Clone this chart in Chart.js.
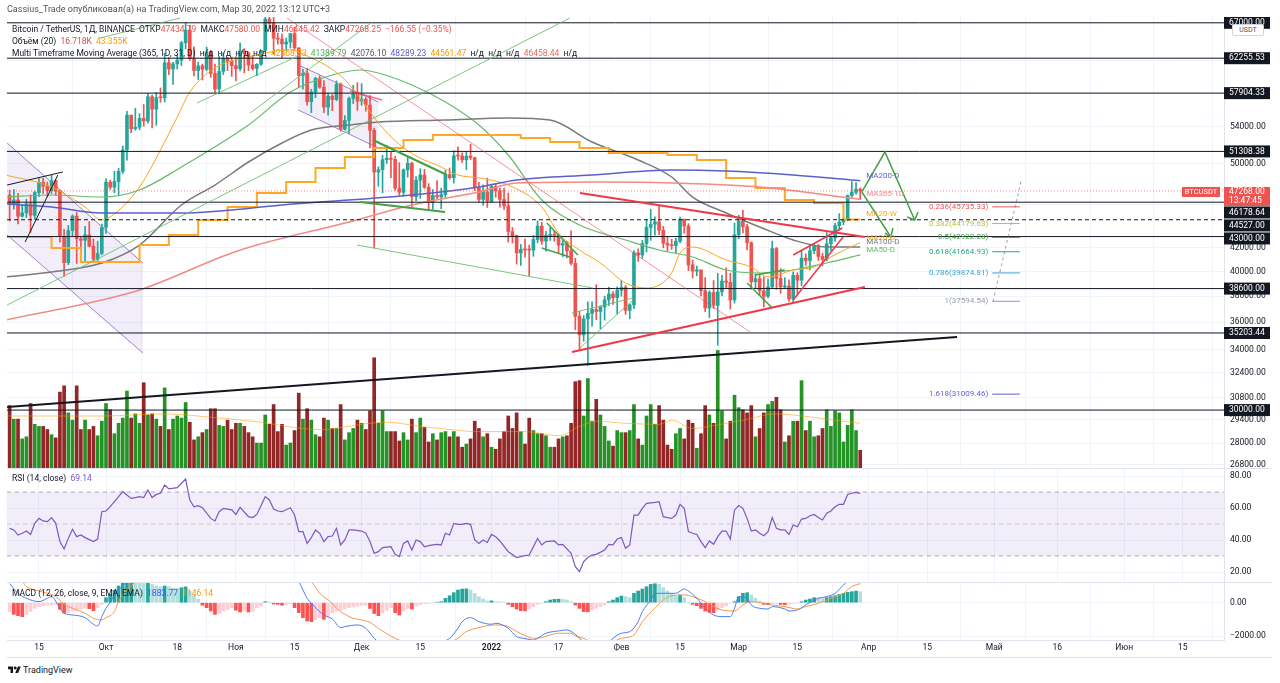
<!DOCTYPE html>
<html lang="ru">
<head>
<meta charset="UTF-8">
<title>Bitcoin / TetherUS, 1Д, BINANCE</title>
<script src="https://cdn.jsdelivr.net/npm/chart.js@4.4.1/dist/chart.umd.min.js"></script>
<style>
    html, body { margin: 0; padding: 0; background: #fff; }
    body { font-family: Roboto, 'Noto Sans', sans-serif; color: #131722; }
    .page { position: relative; width: 1280px; height: 683px; overflow: hidden; }
    .pane { position: absolute; left: 7px; width: 1273px; }
    .sep { position: absolute; left: 7px; width: 1265px; height: 1px; background: #e0e3eb; }
    .hdr { position: absolute; left: 0; top: 0; width: 1280px; height: 17px; background: #fff; }
    .hdr span { position: absolute; left: 7px; top: 4px; font-size: 9px; line-height: 11px; color: #50535e; }
    .txt { position: absolute; left: 12px; font-size: 8.5px; line-height: 10px; white-space: pre; color: #131722; }
    .red { color: #ef5350; }
    .vol { color: #d0504c; }
    .org { color: #ff9800; }
    .grn { color: #4caf50; }
    .gry { color: #555; }
    .pur { color: #5c5fc9; }
    .sal { color: #ef6a62; }
    .rsi { color: #7e57c2; }
    .blu { color: #2962ff; }
    .usdt { position: absolute; left: 1232px; top: 24px; width: 30px; height: 10px; background: #fff;
            border: 1px solid #d1d4dc; border-radius: 2px; font-size: 7px; line-height: 10px;
            text-align: center; color: #50535e; }
    .logo { position: absolute; left: 8px; top: 665px; font-size: 9px; line-height: 11px; color: #131722; }
    .logo svg { vertical-align: -1px; margin-right: 2px; }
</style>
</head>
<body>
<div class="page">
    <div class="pane" style="top:0;height:468px"><canvas id="priceChart"></canvas></div>
    <div class="pane" style="top:468px;height:114px"><canvas id="rsiChart"></canvas></div>
    <div class="pane" style="top:582px;height:76px"><canvas id="macdChart"></canvas></div>
    <div class="sep" style="top:468px"></div>
    <div class="sep" style="top:582px"></div>
    <div class="sep" style="top:657px"></div>

    <div class="hdr"><span>Cassius_Trade опубликовал(а) на TradingView.com, Мар 30, 2022 13:12 UTC+3</span></div>
    <div class="txt" style="top:24px">Bitcoin / TetherUS, 1Д, BINANCE  ОТКР<span class="red">47434.79</span>  МАКС<span class="red">47580.00</span>  МИН<span class="red">46445.42</span>  ЗАКР<span class="red">47268.25</span>  <span class="red">−166.55 (−0.35%)</span></div>
    <div class="txt" style="top:36px">Объём (20)  <span class="vol">16.718K</span>  <span class="org">43.355K</span></div>
    <div class="txt" style="top:48px">Multi Timeframe Moving Average (365, 1D, 31, D)  н/д  н/д  н/д  н/д  <span class="org">42468.83</span>  <span class="grn">41389.79</span>  <span class="gry">42076.10</span>  <span class="pur">48289.23</span>  <span class="org">44561.47</span>  н/д  н/д  н/д  <span class="sal">46458.44</span>  н/д</div>
    <div class="txt" style="top:473px">RSI (14, close)  <span class="rsi">69.14</span></div>
    <div class="txt" style="top:588px">MACD (12, 26, close, 9, EMA, EMA)  <span class="blu">1883.77</span>  <span class="org">1146.14</span></div>
    <div class="usdt">USDT</div>
    <div class="logo"><svg width="13" height="9" viewBox="0 0 36 24"><path d="M14 22H7V11H0V4h14v18z" fill="#131722"/><circle cx="20" cy="8" r="4" fill="#131722"/><path d="M28 22h-8l7.5-18h8z" fill="#131722"/></svg>TradingView</div>
</div>

<script>
    // ---------- data (x = days from 1 Jan 2022, first candle 8 Sep 2021) ----------
    const firstDay = -115;

    const opens = [
        46863,46048,46395,44850,45173,46026,44940,47103,48121,47737,47299,48292,47241,43016,40734,43546,44865,42810,42670,43160,42147,41025,41524,
        43820,48141,47634,48200,49224,51471,55315,53785,53955,54949,54659,57471,56005,57367,57347,61672,60875,61528,62005,64280,66001,62193,60688,61286,60852,63078,60328,58413,60575,62253,61859,
        61299,60911,63219,62897,61395,60940,61470,63273,67525,66947,64883,64774,64122,64380,65520,63606,60058,60344,56891,58057,59707,58617,56247,57541,57138,58960,53723,54716,57274,57777,
        56951,57184,56485,53601,49152,49397,50441,50588,50471,47535,47140,49389,50053,46702,48336,48864,47632,46133,46834,46681,46915,48896,48588,50838,50820,50428,50809,50640,47588,46444,47178,
        46216,47722,47286,46446,45832,43451,43082,41566,41864,41822,41815,42735,43950,42591,43099,43177,43113,42250,42375,41744,40680,36445,35071,36245,36660,36958,36809,37161,37712,38166,37882,
        38466,38694,36896,37311,41571,41382,42380,43840,44118,44347,43565,42407,42244,42197,42586,44578,43937,40552,40030,40118,38431,37069,38286,37280,38333,39214,39105,37699,
        43160,44421,43892,42454,39148,39397,38420,37988,38730,41942,39422,38730,38807,37778,39671,39280,41114,40917,41757,42201,41262,41003,42364,42882,43991,44313,44511,46827,47128,47434
    ];
    const highs = [
        47340,47399,47033,45969,46460,46880,47250,48500,48557,48150,48843,48372,47347,43639,44000,44978,45200,42966,43920,44350,42787,42590,44132,
        48495,48336,49228,49536,51886,55750,55332,56100,55489,56561,57839,57680,58000,58531,62933,62350,61718,62695,64486,67000,66639,63732,61747,61500,63710,63293,61496,62499,62980,62359,62405,
        62437,64270,63500,63086,62595,61560,63286,67789,68524,69000,65600,65450,64915,65550,66401,63617,60840,60976,58370,59845,60029,59444,57875,57735,59398,59150,55281,57445,58865,59176,
        59053,57375,57600,53859,49699,50891,51936,51200,50797,50125,49485,50777,50189,48700,49500,49436,47995,47392,48300,47537,49328,49576,51375,51810,51156,51280,52088,50704,48119,47879,48548,
        47954,47990,47570,47557,47070,43816,43145,42300,42786,42248,43100,44423,44279,43459,43800,43475,43176,42691,42576,43505,41100,36835,36499,37550,37545,38920,37234,38000,38720,38359,38744,
        39265,38855,37387,41772,41913,42656,44500,45492,44799,45821,43920,43000,42760,42876,44775,44578,44164,40959,40444,40129,39494,38429,39249,39843,39683,40295,39855,44225,
        44949,45400,44101,42527,39794,39694,39547,39362,42594,42039,40236,39486,39310,39947,39887,41718,41478,42325,42400,42296,41544,43361,43025,44220,45094,44792,46890,48190,48096,47580
    ];
    const lows = [
        44412,45513,44132,44770,44742,43370,44555,46700,47021,46699,47033,46829,42500,39600,40565,43069,40675,41646,40750,42098,40888,40753,41410,
        43283,47430,47088,46891,49022,50382,53357,53617,53661,54080,54415,53879,54167,56818,56850,60150,58963,60880,61322,63481,62000,60000,59562,59510,60650,59817,58000,57820,60174,60673,59945,
        59405,60624,60382,60677,60721,60050,61322,63273,66222,62822,64100,62278,63303,63576,63400,58574,58373,56474,55600,57353,58486,55610,55317,55837,57000,53500,53610,53256,56666,55875,
        56458,55777,51680,42000,47727,47100,50039,48600,47320,46852,46751,48638,45672,46290,46547,47511,45456,45500,46406,45558,46630,48421,48049,50384,50142,49412,50450,47313,46201,45900,45678,
        46208,46654,45696,45500,42500,42430,40610,40501,41200,39650,41268,42447,42311,41725,42654,42581,41540,41250,41138,40553,35440,34008,34601,32917,35701,36193,35507,36155,37268,37351,36632,
        38000,36586,36250,37026,40844,41116,41645,42666,43117,43176,42000,41748,41870,41570,42428,43307,40073,39450,39639,38000,36800,36350,37036,34322,38014,38600,37000,37450,
        42809,43334,41832,38550,38656,38088,37155,37867,38656,38539,38223,38660,37578,37555,38098,38828,40500,40135,41499,40911,40467,40875,41751,42561,43579,44072,44421,46663,46950,46445
    ];
    const closes = [
        46048,46395,44850,45173,46026,44940,47111,48121,47737,47299,48292,47241,43015,40734,43543,44865,42810,42670,43160,42147,41026,41524,43824,
        48141,47634,48200,49224,51471,55315,53785,53951,54949,54659,57471,56005,57367,57347,61672,60875,61528,62009,64280,66001,62193,60688,61286,60852,63078,60328,58413,60575,62253,61859,61299,
        60911,63219,62897,61395,60937,61470,63273,67525,66947,64882,64774,64122,64380,65519,63606,60058,60344,56891,58052,59707,58622,56247,57541,57138,58960,53726,54721,57274,57776,56950,
        57184,56480,53602,49152,49396,50441,50588,50471,47545,47140,49389,50053,46702,48343,48864,47632,46131,46834,46681,46915,48896,48588,50838,50821,50429,50809,50640,47588,46444,47178,46306,
        47722,47286,46446,45832,43451,43082,41566,41864,41822,41815,42735,43950,42591,43099,43177,43113,42250,42375,41744,40680,36445,35071,36244,36660,36958,36809,37161,37712,38166,37882,38467,
        38694,36896,37311,41574,41382,42380,43840,44118,44338,43565,42407,42244,42197,42586,44575,43961,40538,40030,40122,38431,37075,38286,37296,38332,39214,39105,37699,43160,
        44421,43893,42454,39148,39397,38420,37989,38730,41941,39422,38730,38807,37777,39671,39280,41114,40917,41757,42201,41262,41002,42364,42882,43991,44313,44511,46827,47128,47434,47268
    ];
    // daily volume, thousands of BTC
    const volumes = [
        60,47,47,28,30,62,42,40,40,37,32,29,73,79,53,46,79,37,46,37,40,31,45,
        62,56,33,43,48,74,48,52,43,82,51,52,47,40,77,37,47,50,48,63,44,27,30,34,37,57,57,41,40,46,37,
        43,43,40,34,30,24,24,51,42,61,35,42,22,24,36,72,47,57,46,32,30,48,46,38,38,61,27,34,38,46,
        43,37,55,106,43,55,35,35,35,26,34,27,47,34,48,39,25,33,27,34,35,30,35,30,20,23,28,45,38,30,33,
        20,18,28,35,50,38,53,35,23,48,36,33,33,31,20,20,28,30,31,43,83,84,50,86,45,66,51,40,26,21,36,
        34,34,36,61,28,22,50,61,42,60,46,22,18,33,38,28,46,43,19,33,60,51,43,113,55,28,45,70,
        58,56,53,60,30,38,53,61,64,68,56,25,31,45,45,84,36,45,30,31,38,56,40,55,53,25,41,56,36,17
    ];
    const volMa20 = [[-116,50],[-93,50],[-78,52],[-65,48],[-57,45],[-41,37],[-29,43],[-25,44],[-17,40],[-10,37],[-4,35],[8,35],
        [16,31],[21,40],[25,45],[32,43],[40,42],[43,46],[48,38],[52,40],[60,46],[68,52],[72,51],[80,47],[88,43]];

    // moving averages: [day, price]
    const ma20d = [[-116,48858],[-105,47656],[-97,45720],[-93,44504],[-91,44781],[-84,47656],[-79,51459],[-75,55104],[-72,58039],
        [-66,61005],[-58,62416],[-48,63323],[-43,62285],[-38.5,61005],[-34.5,59256],[-30.7,56848],[-26.6,54197],[-21.8,51996],
        [-17.1,50612],[-13,49883],[-8,48858],[-3,48557],[4,47853],[12,45720],[16,43317],[21,41817],[26,40706],[32,39050],[37,38647],
        [43,39870],[45,41559],[48,42076],[56,40961],[62,40368],[66,39540],[72,40117],[77,40368],[81,41218],[88,42469]];
    const ma50d = [[-116,46677],[-105,46872],[-93,46677],[-84,47363],[-74,49676],[-58,54197],[-48,58039],[-38,60119],[-31,60751],
        [-27,60373],[-19,58889],[-11,56848],[-3,54197],[4,50928],[12,46390],[21,44047],[32,42696],[40,41817],[48,41218],[56,40117],
        [64,39870],[72,40117],[80,40706],[88,41390]];
    const ma100d = [[-116,39540],[-105,39951],[-93,40706],[-84,42252],[-74,45911],[-66,47853],[-58,50195],[-50,52214],[-43,53638],
        [-34,54197],[-27,54535],[-11,54763],[4,54992],[14,54763],[24,52319],[35,50402],[43,48656],[48,46677],[56,45154],[64,43862],
        [72,42696],[80,42076],[88,42076]];
    const ma200d = [[-116,46005],[-105,45720],[-93,45154],[-84,45154],[-74,45154],[-62,45438],[-50,45911],[-34,46390],[-19,46872],
        [-3,47656],[6,48354],[24,48858],[43,49370],[56,49266],[72,48858],[88,48289]];
    const ma365d = [[-116,36165],[-93,37697],[-84,38487],[-62,41559],[-56,42252],[-34,44319],[-19,45911],[-3,47167],[6,48056],
        [26,48155],[43,48056],[64,47661],[88,46458]];
    // weekly MA20, held for each week
    const ma20w = [[-119,42961],[-105,41992],[-98,40789],[-84,42252],[-77,43139],[-70,44504],[-63,45720],[-56,47066],[-49,48154],
        [-42,49574],[-35,50718],[-28,51673],[-21,52538],[-14,53086],[7,52755],[14,52319],[21,51673],[28,51139],[35,51139],[42,50928],
        [49,50402],[56,48557],[63,47559],[70,46390],[77,46102],[84,44561],[88,44561]];

    const rsiPoints = [
        [-115,47.3],[-114,46.3],[-113,43.1],[-112,44.2],[-111,45.6],[-110,43.5],[-109,50.4],[-108,53.5],[-107,51.9],[-106,51.5],
        [-105,54],[-104,50.4],[-103,39],[-102,34.4],[-101,41],[-100,46.7],[-99,42.1],[-98,43.1],[-97,41.5],[-95,39],
        [-94,40.6],[-93,57.7],[-92,58.1],[-91,60.8],[-90,64],[-88,70.2],[-86,66],[-85,66.5],[-84,67.1],[-83,66.5],
        [-82,71.3],[-81,66.5],[-80,68.5],[-79,69.2],[-78,74.4],[-77,71.9],[-75,72.7],[-73,78.1],[-72,65],[-71,60.8],
        [-70,61.5],[-69,60.2],[-67,53.5],[-66,51.9],[-65,57.7],[-64,59.8],[-62,58.8],[-61,56],[-60,60.4],[-58,54.6],
        [-57,54],[-56,56],[-54,67.1],[-53,65],[-52,59.4],[-51,58.1],[-50,57.7],[-48,60.2],[-47,55.6],[-46,45.2],
        [-45,45.2],[-44,37.9],[-43,41.5],[-42,46.3],[-41,44.2],[-40,39],[-39,42.1],[-38,42.5],[-37,47.3],[-36,36.9],
        [-35,40],[-34,46.3],[-33,46.3],[-31,45.6],[-30,44.2],[-29,39],[-28,31.7],[-27,32.7],[-26,35.2],[-24,35.8],
        [-23,31],[-22,29.6],[-21,37.9],[-20,39.4],[-19,33.8],[-18,40],[-17,39],[-16,35.8],[-15,36.5],[-14,36.9],
        [-13,37.3],[-12,36.9],[-11,44.2],[-10,43.1],[-9,50.4],[-8,49.8],[-7,49.8],[-6,50.4],[-5,49.8],[-4,40],
        [-3,37.9],[-2,40],[-1,38.5],[0,43.5],[1,42.1],[2,39.4],[4,32.7],[5,31],[6,29],[8,30.2],
        [9,30.6],[11,41],[12,36.9],[13,39],[15,39.4],[16,36.9],[17,37.3],[19,31.7],[20,23.3],[21,20.2],
        [22,26.5],[23,29],[24,30.6],[25,31],[27,33.8],[28,37.3],[29,36.9],[30,40.6],[31,41.5],[32,34.8],
        [33,36.9],[34,55.6],[35,55.6],[36,59.8],[37,62.9],[39,63.5],[40,64],[41,54.6],[42,54],[43,53.5],
        [44,55.6],[45,62.3],[46,59.8],[47,45.2],[48,44.2],[49,43.5],[50,39],[51,35.2],[52,39.4],[53,37.3],
        [54,42.1],[55,45.6],[56,45.6],[57,40.6],[58,58.8],[59,61.5],[60,59.8],[61,53.5],[62,45.6],[63,46.3],
        [64,44.2],[65,42.7],[66,45.2],[67,54],[68,47.3],[69,46.3],[70,46.3],[71,43.5],[72,49.4],[73,48.3],
        [74,53.1],[75,53.5],[76,55.2],[77,56],[78,54],[79,52.5],[80,56.7],[81,58.1],[82,60.8],[83,62.3],
        [84,62.3],[85,68.5],[86,69.2],[87,69.8],[88,69.14]
    ];

    const macdPoints = [[-115,1150],[-113,564],[-111,264],[-108,64],[-106,264],[-105,364],[-103,-336],[-102,-636],[-100,-736],
        [-97,-896],[-95,-1296],[-94,-1396],[-93,-836],[-92,-336],[-91,24],[-90,464],[-87,1264],[-84,2100],[-80,2900],[-76,3300],
        [-72,3600],[-68,3000],[-64,2600],[-60,2100],[-56,1800],[-53,2000],[-50,1800],[-47,1500],[-46,1264],[-44,264],[-43,-36],
        [-42,-296],[-40,-736],[-38,-976],[-36,-1496],[-35,-1436],[-32,-1336],[-30,-1536],[-28,-2136],[-25,-2700],[-20,-2900],
        [-15,-2600],[-10,-2136],[-8,-1536],[-7,-1136],[-5,-896],[-3,-1136],[0,-1296],[1,-1236],[4,-1536],[6,-2036],[8,-2150],
        [10,-2250],[11,-2136],[13,-1836],[16,-1696],[18,-1636],[20,-1900],[21,-2136],[24,-2700],[27,-2600],[29,-2136],[31,-1836],
        [33,-1736],[35,-1136],[36,-536],[38,164],[39,564],[42,564],[44,564],[46,824],[47,700],[49,264],[51,-336],[53,-736],
        [55,-836],[57,-836],[58,-336],[59,364],[61,264],[62,-136],[64,-336],[66,-376],[67,-236],[70,-376],[71,-496],[73,-436],
        [75,-136],[78,264],[80,364],[82,564],[84,1064],[85,1264],[88,1884]];
    const signalPoints = [[-115,1500],[-112,1264],[-111,964],[-108,704],[-106,564],[-104,364],[-102,-96],[-100,-336],[-97,-636],
        [-95,-936],[-93,-1036],[-92,-896],[-90,-536],[-89,64],[-87,764],[-85,1224],[-80,2100],[-76,2700],[-72,3100],[-68,3200],
        [-64,3000],[-60,2600],[-56,2300],[-52,2100],[-48,1900],[-45,1600],[-43,1264],[-41,564],[-38,-36],[-37,-336],[-35,-696],
        [-33,-936],[-31,-1036],[-29,-1176],[-27,-1536],[-23,-2136],[-19,-2500],[-14,-2600],[-10,-2400],[-8,-2136],[-6,-1736],
        [-3,-1496],[-1,-1376],[1,-1336],[4,-1436],[6,-1736],[8,-1976],[10,-2136],[12,-2100],[14,-1936],[16,-1836],[19,-1836],
        [20,-2000],[22,-2136],[25,-2500],[28,-2450],[31,-2136],[34,-1936],[36,-1136],[39,-336],[41,164],[43,424],[46,464],
        [48,364],[51,64],[53,-236],[55,-436],[58,-496],[60,-136],[62,64],[65,-36],[67,-136],[70,-236],[73,-376],[75,-236],
        [78,-36],[81,264],[84,564],[86,964],[88,1146]];
    // histogram, one value per candle
    const histValues = [
        -540,-700,-780,-840,-700,-540,-340,-240,-180,-140,
        -140,-100,-400,-620,-600,-500,-440,-400,-330,-360,
        -480,-300,-100,300,520,760,1000,1200,1300,1350,
        1250,1200,1150,1200,1100,1000,950,1000,950,880,
        850,900,950,700,450,200,-150,-300,-500,-700,
        -650,-500,-400,-300,-450,-560,-500,-560,-520,-300,
        -200,60,20,-80,-100,-150,-100,-60,-300,-600,
        -900,-1100,-1140,-1000,-900,-1000,-800,-600,-500,-450,
        -380,-300,-250,-200,-160,-150,-350,-650,-780,-600,
        -450,-300,-600,-740,-500,-350,-380,-200,-120,-60,
        -40,-20,30,60,260,420,600,760,820,830,
        760,560,360,220,100,110,60,50,20,-100,
        -240,-380,-480,-490,-380,-240,-100,-40,60,160,
        200,210,200,160,60,-140,-340,-540,-550,-440,
        -340,-240,-140,60,160,300,400,360,300,560,
        700,820,960,1100,1140,1100,900,700,560,380,
        460,300,20,-100,-180,-340,-500,-580,-600,-440,
        -300,-180,-40,60,360,560,600,460,260,100,
        -100,-120,-60,-40,-100,-120,-100,-40,-20,60,
        160,220,300,300,260,300,360,420,500,560,
        620,660,700,660
    ];

    // axes
    const timeTickDays = [-108,-92,-75,-61,-47,-31,-17,0,16,31,45,59,73,90,104,120,135,151,165];
    const timeTickLabels = ['15','Окт','18','Ноя','15','Дек','15','2022','17','Фев','15','Мар','15','Апр','15','Май','16','Июн','15'];
    const priceTicks = [62000,58000,54000,50000,46000,42000,40000,38000,36000,34000,32400,30800,29400,28000,26800];
    const rsiTicks = [80,60,40,20];
    const macdTicks = [0,-2000];

    // horizontal levels and fib retracement
    const levels = [67000,62255.53,57904.33,51308.38,46178.64,44527,43000,38600,35203.44,30000];
    const dashedLevel = 44527;
    const fibRatios = ['0.236','0.382','0.5','0.618','0.786','1','1.618'];
    const fibPrices = [45735.33,44179.63,42922.28,41664.93,39874.81,37594.54,31009.46];
    const fibSpan = [119.5,126.1];
    const fibDiagonal = [[119.7,37594.54],[126.4,48250]];

    // drawn trend lines: [day, price]
    const blackTrend = [[-115.6,30193],[111.1,34910]];
    const wedgeUpper = [[21.1,47066],[89.1,42961]];
    const wedgeLower = [[19.2,33842],[89.1,38727]];
    const risingUpper = [[72,41385],[83.7,43772]];
    const risingLower = [[72,37697],[83.9,42961]];
    const pinkTrend = [[-48.8,67670],[61.7,35276]];
    const redShort = [[-33.8,58162],[-26.1,57085]];
    const greenLong1 = [[-115.6,37307],[18.7,67670]];
    const greenLong2 = [[-70.3,56733],[-45.7,62670]];
    const greenLong3 = [[-93.4,64922],[-74.3,67670]];
    const greenSteep = [[-57.6,55563],[-28.5,67085]];
    const decFlagTop = [[-28.3,52538],[-10.6,48858]];
    const decFlagBottom = [[-31.4,46196],[-11.1,45248]];
    const thinSupport = [[-32.1,42252],[24.2,38647]];
    const janWedgeA = [[13.2,44228],[20.6,41385]];
    const janWedgeB = [[12,41992],[18.7,41218]];
    const janFlagTop = [[19.2,36696],[33.8,37855]];
    const janFlagBottom = [[21.1,34125],[33.8,37697]];
    const marLineA = [[61,39050],[67,37078]];
    const marLineB = [[62.9,39704],[70,40117]];
    const pathUp = [[88.4,47167],[93.9,51245],[101,44504]];
    const pathUpHead = [[99.2,44781],[101,44504],[101.8,45248]];
    const pathDown = [[88.4,47167],[95.3,42961]];
    const pathDownHead = [[93.9,43317],[95.3,42961],[95.8,43772]];
    const leftTriA = [[-115.6,47853],[-102.3,49164]];
    const leftTriB = [[-111.3,42518],[-103.5,48858]];
    const leftChannelTop = [[-115.6,52214],[-83.2,40706]];
    const leftChannelBottom = [[-115.6,43139],[-83.2,33772]];
    const midChannelTop = [[-46.1,61384],[-27,56848]];
    const midChannelBottom = [[-46.1,55911],[-27,51673]];

    // ---------- view ----------
    const VIEW_MIN = -115.63, VIEW_MAX = 174.82;
    const PRICE_MIN = 26603, PRICE_MAX = 70247;
    const AXIS_W = 56;

    Chart.defaults.font.family = 'Roboto, "Noto Sans", sans-serif';
    Chart.defaults.font.size = 8;
    Chart.defaults.color = '#131722';

    const days = opens.map((_, i) => firstDay + i);
    const lastDay = days[days.length - 1];
    const lastClose = closes[closes.length - 1];
    const isUp = closes.map((c, i) => c >= opens[i]);
    const candleColors = isUp.map(u => u ? '#26a69a' : '#ef5350');
    const volColors = isUp.map(u => u ? 'rgba(0,128,0,0.85)' : 'rgba(128,0,0,0.85)');
    const histColors = histValues.map((h, i) => {
        const prev = i ? histValues[i - 1] : h;
        if (h >= 0) return h > prev ? '#26a69a' : '#b2dfdb';
        return h < prev ? '#ff5252' : '#ffcdd2';
    });

    const pts = arr => arr.map(([x, y]) => ({x, y}));

    function line(data, color, width, extra) {
        return Object.assign({
            type: 'line', data: pts(data), borderColor: color, borderWidth: width,
            pointRadius: 0, fill: false, order: 20
        }, extra || {});
    }

    const timeX = (withLabels) => ({
        type: 'linear', min: VIEW_MIN, max: VIEW_MAX, offset: false,
        afterBuildTicks: s => { s.ticks = timeTickDays.map(v => ({value: v})); },
        afterFit: s => { s.height = withLabels ? 18 : 0; s.paddingLeft = 0; s.paddingRight = 0; },
        grid: {color: '#f0f3fa', drawTicks: false},
        border: {display: withLabels, color: '#e0e3eb'},
        ticks: {
            display: withLabels, autoSkip: false, maxRotation: 0, padding: 3, color: '#131722',
            font: c => ({size: 8.5, weight: c.tick && c.tick.value === 0 ? '600' : '400'}),
            callback: (v, i) => timeTickLabels[i]
        }
    });

    const rightY = (ticks, fmt) => ({
        position: 'right',
        afterBuildTicks: s => { s.ticks = ticks.map(v => ({value: v})); },
        afterFit: s => { s.width = AXIS_W; s.paddingTop = 0; s.paddingBottom = 0; },
        grid: {color: '#f0f3fa', drawTicks: false},
        border: {display: true, color: '#e0e3eb'},
        ticks: {autoSkip: false, padding: 6, color: '#131722', font: {size: 8.5}, callback: fmt}
    });

    const baseOptions = {
        responsive: true, maintainAspectRatio: false, animation: false,
        layout: {padding: 0},
        plugins: {legend: {display: false}, tooltip: {enabled: false}}
    };

    // ---------- price pane ----------
    const maStyles = [
        {name: 'MA200-D', data: ma200d, color: '#5c5fc9', width: 1.5},
        {name: 'MA365-1D', data: ma365d, color: '#f28b82', width: 1.5},
        {name: 'MA20-W', data: ma20w, color: '#ffa726', width: 2, stepped: true},
        {name: 'MA20-D', data: ma20d, color: '#f5a623', width: 1},
        {name: 'MA100-D', data: ma100d, color: '#7a7a7a', width: 1.5},
        {name: 'MA50-D', data: ma50d, color: '#66bb6a', width: 1.2}
    ];
    const fibColors = ['#e9575a','#b6c438','#43a047','#22a88a','#3a9fd6','#9a9ca3','#5b5fcf'];

    const priceDatasets = [];
    const RED = '#f23645', GREEN = '#43a047', LIGHT_GREEN = 'rgba(102,187,106,0.85)';

    // drawings
    [pathUp, pathUpHead, pathDown, pathDownHead].forEach(d => priceDatasets.push(line(d, GREEN, 1.5, {order: 5})));
    priceDatasets.push(line(wedgeUpper, RED, 2, {order: 6}));
    priceDatasets.push(line(wedgeLower, RED, 2, {order: 6}));
    priceDatasets.push(line(risingUpper, RED, 1.5, {order: 6}));
    priceDatasets.push(line(risingLower, RED, 1.5, {order: 6}));
    priceDatasets.push(line(pinkTrend, 'rgba(242,54,69,0.55)', 1, {order: 7}));
    priceDatasets.push(line(redShort, 'rgba(242,54,69,0.7)', 1.5, {order: 7}));
    priceDatasets.push(line(blackTrend, '#131722', 2, {order: 6}));
    [decFlagTop, decFlagBottom].forEach(d => priceDatasets.push(line(d, GREEN, 2, {order: 7})));
    [janWedgeA, janWedgeB, marLineA, marLineB].forEach(d => priceDatasets.push(line(d, GREEN, 1.5, {order: 7})));
    [greenLong1, greenLong2, greenLong3, greenSteep, thinSupport, janFlagTop, janFlagBottom].forEach(d =>
        priceDatasets.push(line(d, LIGHT_GREEN, 1, {order: 8})));
    [leftTriA, leftTriB].forEach(d => priceDatasets.push(line(d, '#131722', 1, {order: 8})));

    // fib retracement
    fibPrices.forEach((p, i) => priceDatasets.push(line([[fibSpan[0], p], [fibSpan[1], p]], fibColors[i], 1, {order: 9})));
    priceDatasets.push(line(fibDiagonal, 'rgba(120,123,134,0.7)', 1, {borderDash: [3, 3], order: 9}));

    // levels and last price
    levels.forEach(v => priceDatasets.push(line([[VIEW_MIN, v], [VIEW_MAX, v]], '#131722', 1,
        {borderDash: v === dashedLevel ? [4, 3] : [], order: 10})));
    priceDatasets.push(line([[VIEW_MIN, lastClose], [VIEW_MAX, lastClose]], 'rgba(239,83,80,0.7)', 1,
        {borderDash: [1, 2], order: 11}));

    // moving averages
    maStyles.forEach((m, i) => priceDatasets.push(line(m.data, m.color, m.width, {
        order: 40 + i, stepped: m.stepped || false,
        cubicInterpolationMode: m.stepped ? 'default' : 'monotone'
    })));

    // candles
    priceDatasets.push({
        type: 'bar', yAxisID: 'y', order: 80, grouped: false, barThickness: 3, minBarLength: 1,
        data: days.map((d, i) => ({x: d, y: [opens[i], closes[i]]})), backgroundColor: candleColors
    });
    priceDatasets.push({
        type: 'bar', yAxisID: 'y', order: 85, grouped: false, barThickness: 1,
        data: days.map((d, i) => ({x: d, y: [lows[i], highs[i]]})), backgroundColor: candleColors
    });

    // shaded channels
    const CH = 'rgba(149,117,205,0.9)', CH_FILL = 'rgba(149,117,205,0.13)';
    priceDatasets.push(line(leftChannelTop, CH, 1, {order: 90}));
    priceDatasets.push(line(leftChannelBottom, CH, 1, {order: 90, fill: '-1', backgroundColor: CH_FILL}));
    priceDatasets.push(line(midChannelTop, CH, 1, {order: 90}));
    priceDatasets.push(line(midChannelBottom, CH, 1, {order: 90, fill: '-1', backgroundColor: CH_FILL}));

    // volume
    priceDatasets.push(line(volMa20, 'rgba(255,152,0,0.55)', 1, {yAxisID: 'yv', order: 95, cubicInterpolationMode: 'monotone'}));
    priceDatasets.push({
        type: 'bar', yAxisID: 'yv', order: 100, grouped: false, barThickness: 3,
        data: days.map((d, i) => ({x: d, y: volumes[i]})), backgroundColor: volColors
    });

    const priceOverlay = {
        id: 'priceOverlay',
        afterDraw(chart) {
            const {ctx, chartArea, scales} = chart;
            const x = scales.x, y = scales.y;
            const right = chartArea.right;
            ctx.save();
            ctx.textBaseline = 'middle';

            // fib labels
            ctx.font = '8px Roboto';
            ctx.textAlign = 'right';
            fibPrices.forEach((p, i) => {
                ctx.fillStyle = fibColors[i];
                ctx.fillText(fibRatios[i] + '(' + p.toFixed(2) + ')', x.getPixelForValue(fibSpan[0]) - 4, y.getPixelForValue(p));
            });

            // MA names at the end of each line
            ctx.textAlign = 'left';
            maStyles.forEach(m => {
                const last = m.data[m.data.length - 1][1];
                ctx.fillStyle = m.color;
                ctx.fillText(m.name, x.getPixelForValue(lastDay) + 6, y.getPixelForValue(last) - 5);
            });

            // price scale labels, pushed down when they overlap
            const py = y.getPixelForValue(lastClose);
            const items = levels.map(v => ({kind: 'level', v, c: y.getPixelForValue(v), h: 13}));
            items.push({kind: 'price', v: lastClose, c: py + 5.5, h: 19});
            items.sort((a, b) => a.c - b.c);
            let floor = -Infinity;
            items.forEach(it => { it.top = Math.max(it.c - it.h / 2, floor); floor = it.top + it.h; });

            ctx.font = '8.5px Roboto';
            items.forEach(it => {
                if (it.kind === 'level') {
                    ctx.fillStyle = '#131722';
                    ctx.fillRect(right, it.top + 0.5, 46, 12);
                    ctx.fillStyle = '#fff';
                    ctx.fillText(it.v.toFixed(2), right + 5, it.top + 6.5);
                } else {
                    ctx.fillStyle = '#ef5350';
                    ctx.fillRect(right, it.top, 46, 19);
                    ctx.fillRect(right - 42, it.top, 38, 10);
                    ctx.fillStyle = '#fff';
                    ctx.fillText(it.v.toFixed(2), right + 5, it.top + 4.5);
                    ctx.fillText('13:47:45', right + 5, it.top + 14);
                    ctx.textAlign = 'center';
                    ctx.font = '7.5px Roboto';
                    ctx.fillText('BTCUSDT', right - 23, it.top + 5);
                    ctx.textAlign = 'left';
                    ctx.font = '8.5px Roboto';
                }
            });
            ctx.restore();
        }
    };

    new Chart(document.getElementById('priceChart'), {
        type: 'bar',
        data: {datasets: priceDatasets},
        options: Object.assign({}, baseOptions, {
            scales: {
                x: timeX(false),
                y: Object.assign(rightY(priceTicks, v => Number(v).toFixed(2)), {
                    type: 'logarithmic', min: PRICE_MIN, max: PRICE_MAX
                }),
                yv: {type: 'linear', position: 'left', display: false, min: 0, max: 450}
            }
        }),
        plugins: [priceOverlay]
    });

    // ---------- RSI pane ----------
    const BAND = 'rgba(120,123,134,0.6)';
    new Chart(document.getElementById('rsiChart'), {
        type: 'line',
        data: {
            datasets: [
                line(rsiPoints, '#7e57c2', 1.2, {order: 1}),
                line([[VIEW_MIN, 50], [VIEW_MAX, 50]], 'rgba(120,123,134,0.35)', 1, {borderDash: [4, 4], order: 2}),
                line([[VIEW_MIN, 70], [VIEW_MAX, 70]], BAND, 1, {borderDash: [4, 4], order: 3}),
                line([[VIEW_MIN, 30], [VIEW_MAX, 30]], BAND, 1, {borderDash: [4, 4], order: 3,
                    fill: '-1', backgroundColor: 'rgba(126,87,194,0.1)'})
            ]
        },
        options: Object.assign({}, baseOptions, {
            scales: {
                x: timeX(false),
                y: Object.assign(rightY(rsiTicks, v => Number(v).toFixed(2)), {type: 'linear', min: 13.75, max: 85})
            }
        })
    });

    // ---------- MACD pane ----------
    new Chart(document.getElementById('macdChart'), {
        type: 'bar',
        data: {
            datasets: [
                line(macdPoints, '#4a7cf0', 1, {order: 1, cubicInterpolationMode: 'monotone'}),
                line(signalPoints, '#f5964a', 1, {order: 2, cubicInterpolationMode: 'monotone'}),
                {
                    type: 'bar', order: 5, grouped: false, barThickness: 3,
                    data: days.map((d, i) => ({x: d, y: histValues[i]})), backgroundColor: histColors
                }
            ]
        },
        options: Object.assign({}, baseOptions, {
            scales: {
                x: timeX(true),
                y: Object.assign(rightY(macdTicks, v => (v < 0 ? '\u2212' : '') + Math.abs(v).toFixed(2)),
                    {type: 'linear', min: -2240, max: 1243})
            }
        })
    });
</script>
</body>
</html>
